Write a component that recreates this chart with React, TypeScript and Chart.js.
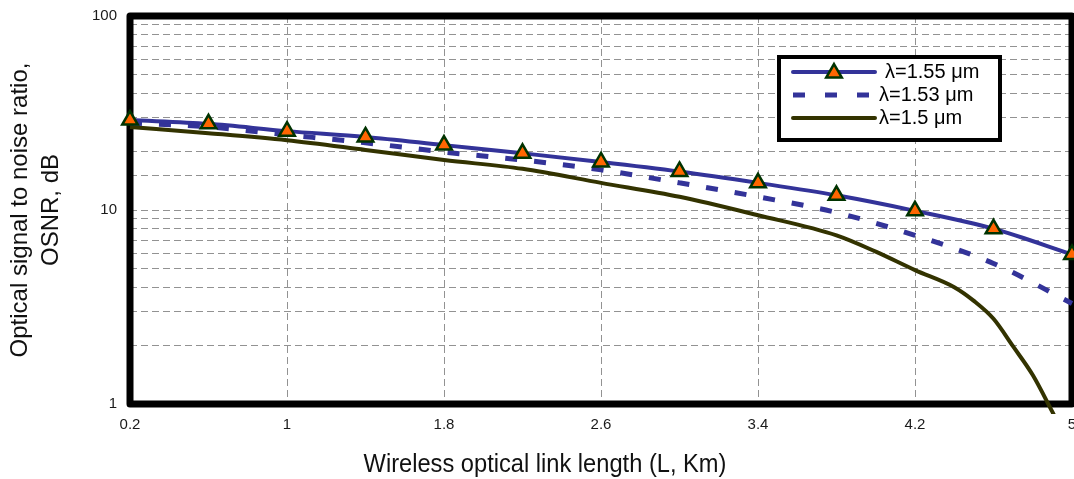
import React, { useEffect, useRef } from 'react';
import { Chart, registerables } from 'chart.js';

Chart.register(...registerables);

// ---- data ----
const xValues = [0.2, 0.6, 1.0, 1.4, 1.8, 2.2, 2.6, 3.0, 3.4, 3.8, 4.2, 4.6, 5.0];
const osnr155 = [29.1, 27.8, 25.5, 23.8, 21.6, 19.6, 17.7, 15.8, 13.8, 11.9, 9.9, 8.0, 5.9];
const osnr153 = [28.1, 26.8, 24.4, 22.2, 19.9, 18.1, 16.1, 13.8, 11.7, 9.7, 7.4, 5.3, 3.3];
const xValues150 = [0.2, 0.6, 1.0, 1.4, 1.8, 2.2, 2.6, 3.0, 3.4, 3.8, 4.0, 4.2, 4.4, 4.5, 4.6, 4.7, 4.8, 4.9, 5.0];
const osnr150 = [26.8, 24.9, 22.9, 20.4, 18.1, 16.3, 13.8, 11.7, 9.4, 7.4, 6.1, 4.9, 4.0, 3.4, 2.75, 1.98, 1.41, 0.91, 0.58];
const seriesLabels = ['λ=1.55 μm', 'λ=1.53 μm', 'λ=1.5 μm'];

const xTicks = [0.2, 1.0, 1.8, 2.6, 3.4, 4.2, 5.0];
const xTickLabels = ['0.2', '1', '1.8', '2.6', '3.4', '4.2', '5'];
const yLabelValues = [1, 10, 100];
const yTickLabels = ['1', '10', '100'];

const xTitle = 'Wireless optical link length (L, Km)';
const yTitleLines = ['Optical signal to noise ratio,', 'OSNR, dB'];

const FONT = '"Liberation Sans", Arial, Helvetica, sans-serif';

function drawTriangle(ctx: CanvasRenderingContext2D, x: number, y: number, r: number) {
  ctx.beginPath();
  ctx.moveTo(x, y - r);
  ctx.lineTo(x + r * Math.sin(Math.PI / 3), y + r * 0.5);
  ctx.lineTo(x - r * Math.sin(Math.PI / 3), y + r * 0.5);
  ctx.closePath();
  ctx.fill();
  ctx.stroke();
}

const decorPlugin = {
  id: 'decor',
  beforeDatasetsDraw(chart: any) {
    const { ctx, chartArea } = chart;
    const { left, top, right, bottom } = chartArea;
    ctx.save();
    ctx.lineWidth = 7;
    ctx.strokeStyle = '#000';
    ctx.lineJoin = 'round';
    ctx.strokeRect(left, top, right - left, bottom - top);
    ctx.restore();
  },
  afterDraw(chart: any) {
    const { ctx, chartArea } = chart;
    const cy = (chartArea.top + chartArea.bottom) / 2;
    ctx.save();
    ctx.fillStyle = '#111';
    ctx.textAlign = 'center';
    ctx.textBaseline = 'alphabetic';
    ctx.font = `24px ${FONT}`;
    yTitleLines.forEach((line, i) => {
      ctx.save();
      ctx.translate(27 + i * 31, cy);
      ctx.rotate(-Math.PI / 2);
      ctx.fillText(line, 0, 0);
      ctx.restore();
    });
    ctx.save();
    ctx.translate(545, 472);
    ctx.scale(0.91, 1);
    ctx.font = `26px ${FONT}`;
    ctx.fillText(xTitle, 0, 0);
    ctx.restore();

    // legend
    const lx = 779, ly = 57, lw = 221, lh = 83;
    ctx.fillStyle = '#fff';
    ctx.fillRect(lx, ly, lw, lh);
    ctx.lineWidth = 4;
    ctx.strokeStyle = '#000';
    ctx.strokeRect(lx, ly, lw, lh);
    const rows = [72, 95, 118];
    chart.data.datasets.forEach((ds: any, i: number) => {
      const y = rows[i];
      ctx.save();
      ctx.strokeStyle = ds.borderColor;
      ctx.lineWidth = i === 1 ? 5 : 4;
      if (i === 1) {
        ctx.setLineDash([12, 20]);
        ctx.lineCap = 'butt';
      } else {
        ctx.lineCap = 'round';
      }
      ctx.beginPath();
      ctx.moveTo(793, y);
      ctx.lineTo(i === 1 ? 870 : 875, y);
      ctx.stroke();
      ctx.restore();
      if (i === 0) {
        ctx.save();
        ctx.fillStyle = ds.pointBackgroundColor;
        ctx.strokeStyle = ds.pointBorderColor;
        ctx.lineWidth = 2.5;
        drawTriangle(ctx, 834, y + 1, 9);
        ctx.restore();
      }
      ctx.save();
      ctx.fillStyle = '#000';
      ctx.font = `20px ${FONT}`;
      ctx.textAlign = 'left';
      ctx.textBaseline = 'middle';
      ctx.fillText(ds.label, i === 0 ? 885 : 879, y);
      ctx.restore();
    });
    ctx.restore();
  },
};

export default function App() {
  const canvasRef = useRef<HTMLCanvasElement | null>(null);

  useEffect(() => {
    if (!canvasRef.current) return;
    const clip = { left: 12, top: 12, right: 12, bottom: 10 };
    const chart = new Chart(canvasRef.current, {
      type: 'line',
      data: {
        datasets: [
          {
            label: seriesLabels[0],
            data: xValues.map((x, i) => ({ x, y: osnr155[i] })),
            borderColor: '#333399',
            borderWidth: 4,
            pointStyle: 'triangle',
            pointRadius: 9,
            pointHoverRadius: 9,
            pointBackgroundColor: '#FF6600',
            pointBorderColor: '#003300',
            pointBorderWidth: 2.5,
            cubicInterpolationMode: 'monotone',
            clip,
          },
          {
            label: seriesLabels[1],
            data: xValues.map((x, i) => ({ x, y: osnr153[i] })),
            borderColor: '#333399',
            borderWidth: 5,
            borderDash: [12, 17],
            pointRadius: 0,
            cubicInterpolationMode: 'monotone',
            clip,
          },
          {
            label: seriesLabels[2],
            data: xValues150.map((x, i) => ({ x, y: osnr150[i] })),
            borderColor: '#333300',
            borderWidth: 4,
            pointRadius: 0,
            cubicInterpolationMode: 'monotone',
            clip,
          },
        ] as any,
      },
      options: {
        animation: false,
        responsive: false,
        maintainAspectRatio: false,
        layout: { autoPadding: false, padding: { top: 16, right: 2, left: 0, bottom: 0 } },
        plugins: {
          legend: { display: false },
          tooltip: { enabled: false },
          title: { display: false },
        },
        scales: {
          x: {
            type: 'linear',
            min: 0.2,
            max: 5,
            afterBuildTicks: (scale: any) => {
              scale.ticks = xTicks.map((value) => ({ value }));
            },
            afterFit: (scale: any) => {
              scale.height = 75;
              scale.paddingLeft = 0;
              scale.paddingRight = 0;
            },
            ticks: {
              autoSkip: false,
              maxRotation: 0,
              padding: 12,
              color: '#1a1a1a',
              font: { family: FONT, size: 15 },
              callback: (_v: any, index: number) => xTickLabels[index],
            },
            grid: {
              color: '#929292',
              lineWidth: 1,
              drawTicks: false,
            },
            border: { display: false, dash: [7, 4] },
          },
          y: {
            type: 'logarithmic',
            min: 1,
            max: 100,
            afterFit: (scale: any) => {
              scale.width = 130;
              scale.paddingTop = 0;
              scale.paddingBottom = 0;
            },
            ticks: {
              autoSkip: false,
              padding: 13,
              color: '#1a1a1a',
              font: { family: FONT, size: 15 },
              callback: (value: any) => {
                const idx = yLabelValues.findIndex((v) => Math.abs(v - Number(value)) < 1e-9);
                return idx >= 0 ? yTickLabels[idx] : '';
              },
            },
            grid: {
              color: '#929292',
              lineWidth: 1,
              drawTicks: false,
            },
            border: { display: false, dash: [7, 4] },
          },
        },
      } as any,
      plugins: [decorPlugin],
    });
    return () => chart.destroy();
  }, []);

  return (
    <div style={{ position: 'fixed', left: 0, top: 0, width: 1074, height: 479, background: '#fff', overflow: 'hidden' }}>
      <canvas ref={canvasRef} width={1074} height={479} style={{ display: 'block' }} />
    </div>
  );
}
